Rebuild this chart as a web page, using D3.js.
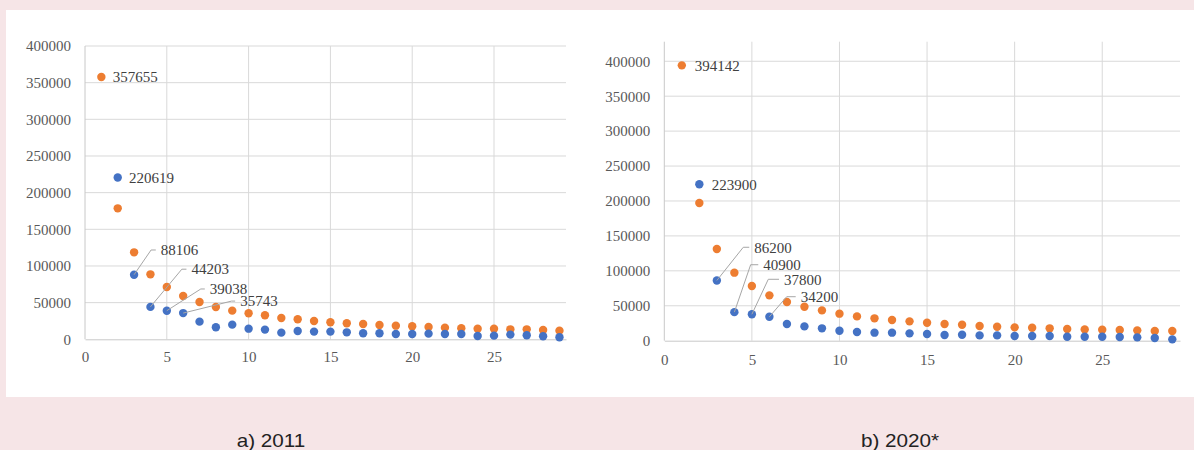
<!DOCTYPE html>
<html>
<head>
<meta charset="utf-8">
<script src="https://cdn.jsdelivr.net/npm/d3@7"></script>
<style>
  body { margin: 0; background: #f6e5e7; }
  svg { display: block; }
</style>
</head>
<body>
<div id="chart"></div>
<script>
// ranks on the x axis
var ranks = [1, 2, 3, 4, 5, 6, 7, 8, 9, 10, 11, 12, 13, 14, 15, 16, 17, 18, 19, 20, 21, 22, 23, 24, 25, 26, 27, 28, 29];

// 2011 values (blue = actual, orange = second series)
var blue2011 = [null, 220619, 88106, 44203, 39038, 35743, 24100, 16400, 20000, 14500, 13200, 9100, 11400, 10500, 10500,
    9500, 8200, 8200, 7300, 7300, 7700, 7300, 7300, 4500, 5000, 6400, 5500, 4100, 2700];
var orange2011 = [357655, 178600, 118600, 88600, 71400, 59100, 50900, 44100, 39100, 35500, 32700, 29100, 27300, 25000, 23200,
    21800, 20900, 19500, 18600, 17700, 16800, 15900, 15000, 14500, 14500, 13600, 13600, 12700, 11800];

// 2020 values
var blue2020 = [null, 223900, 86200, 40900, 37800, 34200, 23900, 20500, 17700, 14300, 12400, 11500, 11500, 10500, 9500,
    8100, 8600, 7600, 7600, 6700, 6700, 6700, 5700, 5700, 5700, 5200, 4800, 3800, 1900];
var orange2020 = [394142, 197100, 131300, 97400, 78300, 64900, 55400, 48700, 43400, 38700, 34800, 32000, 29600, 27700, 25800,
    23900, 22900, 21000, 20000, 19100, 18600, 17700, 16700, 16200, 15800, 15300, 14800, 13800, 13800];

// tick labels
var xTicks = [0, 5, 10, 15, 20, 25];
var yTicks = [0, 50000, 100000, 150000, 200000, 250000, 300000, 350000, 400000];
var captions = ["a) 2011", "b) 2020*"];

var svgWidth = 1194;
var svgHeight = 450;

var blue = "#4472c4";
var orange = "#ed7d31";

var svg = d3.select("#chart")
    .append("svg")
    .attr("width", svgWidth)
    .attr("height", svgHeight);

// white panel behind both charts
svg.append("rect")
    .attr("x", 6)
    .attr("y", 10)
    .attr("width", svgWidth - 6)
    .attr("height", 387)
    .attr("fill", "#ffffff");

function drawChart(opt) {
    var xScale = d3.scaleLinear().domain([0, opt.xMax]).range([opt.left, opt.right]);
    var yScale = d3.scaleLinear().domain([0, opt.yMax]).range([opt.bottom, opt.top]);
    var g = svg.append("g");

    // vertical grid
    g.selectAll(".vgrid")
        .data(xTicks.slice(1))
        .enter()
        .append("line")
        .attr("x1", d => xScale(d))
        .attr("x2", d => xScale(d))
        .attr("y1", yScale(0))
        .attr("y2", opt.top)
        .attr("stroke", "#d9d9d9")
        .attr("stroke-width", 1);

    // horizontal grid
    g.selectAll(".hgrid")
        .data(yTicks.slice(1))
        .enter()
        .append("line")
        .attr("x1", opt.left)
        .attr("x2", opt.right)
        .attr("y1", d => yScale(d))
        .attr("y2", d => yScale(d))
        .attr("stroke", "#d9d9d9")
        .attr("stroke-width", 1);

    // axes
    var bottomAxis = d3.axisBottom(xScale).tickValues(xTicks).tickSize(0).tickPadding(opt.xPad);
    var leftAxis = d3.axisLeft(yScale).tickValues(yTicks).tickSize(0).tickPadding(14)
        .tickFormat(d3.format("d"));

    var xg = g.append("g")
        .attr("transform", `translate(0, ${yScale(0)})`)
        .call(bottomAxis);
    var yg = g.append("g")
        .attr("transform", `translate(${opt.left}, 0)`)
        .call(leftAxis);

    [xg, yg].forEach(function(a) {
        a.select(".domain").attr("stroke", "#c8c8c8");
        a.selectAll("text")
            .attr("font-family", "'Liberation Serif', 'Times New Roman', serif")
            .attr("font-size", 15)
            .attr("fill", "#595959");
    });
    yg.select(".domain").attr("d", `M0,${yScale(0)}V${opt.top}`);

    // points
    var series = [
        { values: opt.orange, color: orange },
        { values: opt.blue, color: blue }
    ];
    series.forEach(function(s) {
        var pts = ranks.map((r, i) => ({ r: r, v: s.values[i] })).filter(d => d.v !== null);
        g.selectAll(null)
            .data(pts)
            .enter()
            .append("circle")
            .attr("cx", d => xScale(d.r))
            .attr("cy", d => yScale(d.v))
            .attr("r", 4.2)
            .attr("fill", s.color);
    });

    // data labels with leader lines
    opt.labels.forEach(function(l) {
        var vals = l.series === "blue" ? opt.blue : opt.orange;
        var v = vals[l.rank - 1];
        var px = xScale(l.rank);
        var py = yScale(v);
        var ty = py;
        if (l.ex !== undefined) {
            var ex = px + l.ex;
            var ey = py + l.ey;
            g.append("path")
                .attr("d", `M${px},${py}L${ex},${ey}H${px + l.tx - 5}`)
                .attr("fill", "none")
                .attr("stroke", "#a6a6a6")
                .attr("stroke-width", 1);
            ty = ey;
        }
        g.append("text")
            .attr("x", px + l.tx)
            .attr("y", ty)
            .attr("dy", "0.35em")
            .attr("font-family", "'Liberation Serif', 'Times New Roman', serif")
            .attr("font-size", 15)
            .attr("fill", "#404040")
            .text(v);
    });

    // caption
    svg.append("text")
        .attr("transform", `translate(${opt.captionX}, 447) scale(1.15, 1)`)
        .attr("text-anchor", "middle")
        .attr("font-family", "'Liberation Sans', Arial, sans-serif")
        .attr("font-size", 18)
        .attr("fill", "#222222")
        .text(opt.caption);
}

drawChart({
    left: 85, right: 566, xMax: 29.4,
    bottom: 339.3, top: 46, yMax: 400000,
    xPad: 12,
    blue: blue2011, orange: orange2011,
    labels: [
        { series: "orange", rank: 1, tx: 11.5 },
        { series: "blue", rank: 2, tx: 11.3 },
        { series: "blue", rank: 3, ex: 17, ey: -24.7, tx: 26.7 },
        { series: "blue", rank: 4, ex: 31.4, ey: -37.7, tx: 41 },
        { series: "blue", rank: 5, ex: 34, ey: -21.7, tx: 43 },
        { series: "blue", rank: 6, ex: 48.4, ey: -12, tx: 57 }
    ],
    caption: captions[0], captionX: 271
});

drawChart({
    left: 664.3, right: 1180, xMax: 29.44,
    bottom: 340.7, top: 41.7, yMax: 428000,
    xPad: 13.5,
    blue: blue2020, orange: orange2020,
    labels: [
        { series: "orange", rank: 1, tx: 13 },
        { series: "blue", rank: 2, tx: 12.4 },
        { series: "blue", rank: 3, ex: 26.4, ey: -33.2, tx: 37.4 },
        { series: "blue", rank: 4, ex: 16.3, ey: -47.4, tx: 28.9 },
        { series: "blue", rank: 5, ex: 16.4, ey: -35, tx: 32.1 },
        { series: "blue", rank: 6, ex: 17.3, ey: -20.1, tx: 31.3 }
    ],
    caption: captions[1], captionX: 900
});
</script>
</body>
</html>
